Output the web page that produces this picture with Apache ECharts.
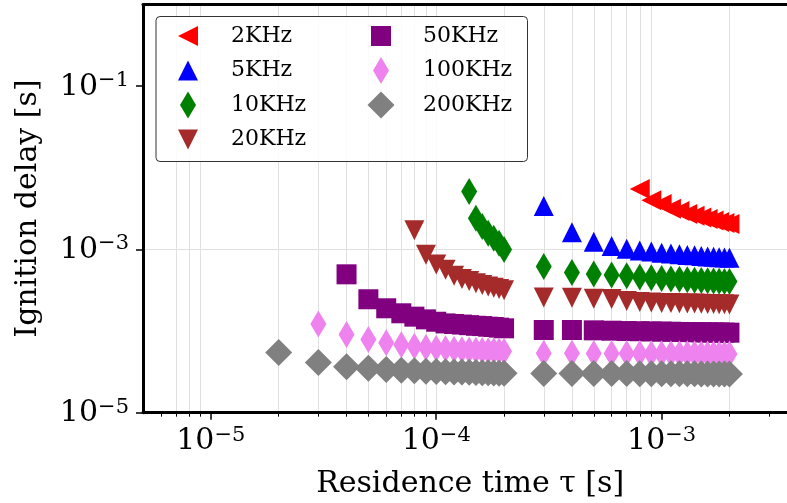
<!DOCTYPE html>
<html>
<head>
<meta charset="utf-8">
<script src="https://cdn.jsdelivr.net/npm/echarts@6/dist/echarts.min.js"></script>
<style>
html,body{margin:0;padding:0;background:#fff;}
#chart{width:787px;height:503px;}
</style>
</head>
<body>
<div id="chart"></div>
<script>
// ---------- data ----------
const seriesNames = ['2KHz', '5KHz', '10KHz', '20KHz', '50KHz', '100KHz', '200KHz'];

// residence times [s]
const tauShort = [2e-5, 3e-5, 4e-5, 5e-5, 6e-5, 7e-5, 8e-5, 9e-5, 1.0e-4, 1.1e-4,
                  1.2e-4, 1.3e-4, 1.4e-4, 1.5e-4, 1.6e-4, 1.7e-4, 1.8e-4, 1.9e-4, 2.0e-4];
const tauLong = [3e-4, 4e-4, 5e-4, 6e-4, 7e-4, 8e-4, 9e-4, 1.0e-3, 1.1e-3, 1.2e-3,
                 1.3e-3, 1.4e-3, 1.5e-3, 1.6e-3, 1.7e-3, 1.8e-3, 1.9e-3, 2.0e-3];
const tau2k = [8e-4, 9e-4, 1.0e-3, 1.1e-3, 1.2e-3, 1.3e-3, 1.4e-3, 1.5e-3, 1.6e-3, 1.7e-3, 1.8e-3, 1.9e-3, 2.0e-3];
const tau5k = tauLong;
const tau10k = [1.4e-4, 1.5e-4, 1.6e-4, 1.7e-4, 1.8e-4, 1.9e-4, 2.0e-4].concat(tauLong);
const tau20k = [8e-5, 9e-5, 1.0e-4, 1.1e-4, 1.2e-4, 1.3e-4, 1.4e-4, 1.5e-4, 1.6e-4, 1.7e-4, 1.8e-4, 1.9e-4, 2.0e-4].concat(tauLong);
const tau50k = tauShort.slice(2).concat(tauLong);
const tau100k = tauShort.slice(1).concat(tauLong);
const tau200k = tauShort.concat(tauLong);

// ignition delays [s]
const delay2k = [5.5e-3, 4.0e-3, 3.6e-3, 3.15e-3, 2.95e-3, 2.72e-3, 2.58e-3, 2.46e-3, 2.35e-3, 2.25e-3, 2.17e-3, 2.1e-3, 2.04e-3];
const delay5k = [3.4e-3, 1.62e-3, 1.24e-3, 1.1e-3, 1.02e-3, 9.7e-4, 9.4e-4, 9.1e-4, 8.9e-4, 8.7e-4,
                 8.55e-4, 8.45e-4, 8.3e-4, 8.2e-4, 8.1e-4, 8.0e-4, 7.95e-4, 7.9e-4];
const delay10k = [5.1e-3, 2.4e-3, 1.9e-3, 1.58e-3, 1.37e-3, 1.19e-3, 1.0e-3,
                  6.15e-4, 5.2e-4, 5.0e-4, 4.87e-4, 4.75e-4, 4.6e-4, 4.5e-4, 4.4e-4, 4.35e-4,
                  4.3e-4, 4.25e-4, 4.2e-4, 4.15e-4, 4.12e-4, 4.1e-4, 4.07e-4, 4.05e-4, 4.03e-4];
const delay20k = [1.72e-3, 8.6e-4, 6.55e-4, 5.65e-4, 4.75e-4, 4.35e-4, 4.1e-4, 3.85e-4, 3.66e-4, 3.5e-4, 3.4e-4, 3.27e-4, 3.15e-4,
                  2.58e-4, 2.56e-4, 2.49e-4, 2.46e-4, 2.34e-4, 2.27e-4, 2.24e-4, 2.21e-4, 2.2e-4, 2.19e-4,
                  2.18e-4, 2.17e-4, 2.16e-4, 2.15e-4, 2.14e-4, 2.13e-4, 2.125e-4, 2.12e-4];
const delay50k = [4.95e-4, 2.45e-4, 1.9e-4, 1.65e-4, 1.5e-4, 1.39e-4, 1.3e-4, 1.24e-4, 1.22e-4, 1.2e-4,
                  1.18e-4, 1.16e-4, 1.15e-4, 1.13e-4, 1.12e-4, 1.10e-4, 1.08e-4,
                  1.03e-4, 1.03e-4, 1.02e-4, 1.01e-4, 1.0e-4, 9.95e-5, 9.9e-5, 9.85e-5, 9.8e-5,
                  9.75e-5, 9.7e-5, 9.68e-5, 9.65e-5, 9.62e-5, 9.6e-5, 9.58e-5, 9.56e-5, 9.55e-5];
const delay100k = [1.22e-4, 9.1e-5, 7.85e-5, 7.2e-5, 6.8e-5, 6.5e-5, 6.3e-5, 6.15e-5, 6.05e-5, 5.98e-5,
                   5.92e-5, 5.87e-5, 5.82e-5, 5.78e-5, 5.75e-5, 5.72e-5, 5.7e-5, 5.67e-5,
                   5.35e-5, 5.33e-5, 5.32e-5, 5.31e-5, 5.3e-5, 5.29e-5, 5.28e-5, 5.28e-5, 5.27e-5,
                   5.27e-5, 5.26e-5, 5.26e-5, 5.25e-5, 5.25e-5, 5.25e-5, 5.24e-5, 5.24e-5, 5.24e-5];
const delay200k = [5.45e-5, 4.12e-5, 3.66e-5, 3.5e-5, 3.37e-5, 3.3e-5, 3.26e-5, 3.22e-5, 3.2e-5, 3.18e-5,
                   3.16e-5, 3.14e-5, 3.12e-5, 3.1e-5, 3.09e-5, 3.08e-5, 3.06e-5, 3.05e-5, 3.04e-5,
                   3.03e-5, 3.02e-5, 3.02e-5, 3.01e-5, 3.01e-5, 3.0e-5, 3.0e-5, 3.0e-5, 2.99e-5,
                   2.99e-5, 2.99e-5, 2.99e-5, 2.98e-5, 2.98e-5, 2.98e-5, 2.98e-5, 2.98e-5, 2.98e-5];

// axis ticks
const xMajorTicks = [1e-5, 1e-4, 1e-3];
const xMinorTicks = [6e-6, 7e-6, 8e-6, 9e-6,
                     2e-5, 3e-5, 4e-5, 5e-5, 6e-5, 7e-5, 8e-5, 9e-5,
                     2e-4, 3e-4, 4e-4, 5e-4, 6e-4, 7e-4, 8e-4, 9e-4,
                     2e-3, 3e-3];
const yMajorTicks = [1e-5, 1e-3, 1e-1];

// ---------- styling ----------
const FONT = 'DejaVu Serif';
const colors = ['#ff0000', '#0000ff', '#008000', '#a52a2a', '#800080', '#ee82ee', '#808080'];
const symbols = [
  'path://M0,10L20,0L20,20Z',      // left triangle
  'triangle',
  'diamond',
  'path://M0,0L20,0L10,20Z',       // down triangle
  'rect',
  'diamond',
  'diamond'
];
const symbolSizes = [20, 20, [16, 27], 20, 20, [16, 27], [27, 27]];
const legendIcons = [
  'path://M0,0M28,28M4,14L24,4L24,24Z',
  'path://M0,0M28,28M14,4L24,24L4,24Z',
  'path://M0,0M28,28M14,0.5L22,14L14,27.5L6,14Z',
  'path://M0,0M28,28M4,4L24,4L14,24Z',
  'path://M0,0M28,28M4,4L24,4L24,24L4,24Z',
  'path://M0,0M28,28M14,0.5L22,14L14,27.5L6,14Z',
  'path://M0,0M28,28M14,0.5L27.5,14L14,27.5L0.5,14Z'
];
const taus = [tau2k, tau5k, tau10k, tau20k, tau50k, tau100k, tau200k];
const delays = [delay2k, delay5k, delay10k, delay20k, delay50k, delay100k, delay200k];

function pow10Label(v) {
  const e = Math.round(Math.log10(v));
  const s = e < 0 ? '\u2212' + (-e) : String(e);
  return '{b|10}{s|' + s + '}';
}
const richStyle = {
  b: {fontFamily: FONT, fontSize: 30, color: '#000', lineHeight: 32, verticalAlign: 'bottom'},
  s: {fontFamily: FONT, fontSize: 21, color: '#000', lineHeight: 21, verticalAlign: 'top'}
};

const X_MIN = 5e-6, X_MAX = 4e-3, Y_MIN = 1e-5, Y_MAX = 1;

const series = seriesNames.map((name, i) => ({
  name: name,
  type: 'scatter',
  xAxisIndex: 0,
  yAxisIndex: 0,
  symbol: symbols[i],
  symbolSize: symbolSizes[i],
  itemStyle: {color: colors[i], opacity: 1},
  emphasis: {disabled: true},
  data: taus[i].map((t, k) => [t, delays[i][k]])
}));

const legendCommon = {
  orient: 'vertical',
  itemWidth: 28,
  itemHeight: 28,
  itemGap: 6.5,
  padding: 0,
  selectedMode: false,
  backgroundColor: 'transparent',
  borderWidth: 0,
  z: 6
};

const option = {
  animation: false,
  backgroundColor: '#ffffff',
  grid: {left: 143, top: 4.4, width: 654.3, height: 408.3, containLabel: false, outerBoundsMode: 'none', show: false},
  xAxis: [
    {
      type: 'log', logBase: 10, min: X_MIN, max: X_MAX, position: 'bottom',
      name: 'Residence time \u03c4 [s]', nameLocation: 'middle', nameGap: 57,
      nameTextStyle: {fontFamily: FONT, fontSize: 30, color: '#000'},
      axisLine: {show: true, onZero: false, lineStyle: {color: '#000', width: 3}},
      axisTick: {show: true, inside: false, length: 7, customValues: xMajorTicks, lineStyle: {color: '#000', width: 1.5}},
      axisLabel: {show: true, margin: 12, customValues: xMajorTicks, formatter: pow10Label, rich: richStyle},
      splitLine: {show: true, showMinLine: false, showMaxLine: false, lineStyle: {color: '#e0e0e0', width: 1}},
      minorTick: {show: false}, minorSplitLine: {show: false}
    },
    {
      type: 'log', logBase: 10, min: X_MIN, max: X_MAX, position: 'bottom',
      axisLine: {show: false, onZero: false},
      axisTick: {show: true, inside: false, length: 4, customValues: xMinorTicks, lineStyle: {color: '#000', width: 1}},
      axisLabel: {show: false},
      splitLine: {show: true, showMinLine: false, showMaxLine: false, lineStyle: {color: '#e0e0e0', width: 1}},
      minorTick: {show: false}, minorSplitLine: {show: false}
    },
    {
      type: 'log', logBase: 10, min: X_MIN, max: X_MAX, position: 'top',
      axisLine: {show: true, onZero: false, lineStyle: {color: '#000', width: 3}},
      axisTick: {show: false}, axisLabel: {show: false}, splitLine: {show: false}
    }
  ],
  yAxis: [
    {
      type: 'log', logBase: 10, min: Y_MIN, max: Y_MAX, position: 'left',
      name: 'Ignition delay [s]', nameLocation: 'middle', nameGap: 100, nameRotate: 90,
      nameTextStyle: {fontFamily: FONT, fontSize: 30, color: '#000'},
      axisLine: {show: true, onZero: false, lineStyle: {color: '#000', width: 3}},
      axisTick: {show: true, inside: false, length: 7, customValues: yMajorTicks, lineStyle: {color: '#000', width: 1.5}},
      axisLabel: {show: true, margin: 14, customValues: yMajorTicks, formatter: pow10Label, rich: richStyle},
      splitLine: {show: true, showMinLine: false, showMaxLine: false, lineStyle: {color: '#e0e0e0', width: 1}},
      minorTick: {show: false}, minorSplitLine: {show: false}
    }
  ],
  legend: [
    Object.assign({}, legendCommon, {
      left: 174, top: 22,
      textStyle: {fontFamily: FONT, fontSize: 22, color: '#000', padding: [0, 0, 0, 24]},
      data: seriesNames.slice(0, 4).map((n, i) => ({name: n, icon: legendIcons[i]}))
    }),
    Object.assign({}, legendCommon, {
      left: 367, top: 22,
      textStyle: {fontFamily: FONT, fontSize: 22, color: '#000', padding: [0, 0, 0, 23]},
      data: seriesNames.slice(4).map((n, i) => ({name: n, icon: legendIcons[i + 4]}))
    })
  ],
  graphic: [
    {
      type: 'rect', left: 155.5, top: 16, z: 5,
      shape: {width: 371.5, height: 145, r: 4},
      style: {fill: 'rgba(255,255,255,0.85)', stroke: '#333333', lineWidth: 1}
    }
  ],
  series: series
};

const chart = echarts.init(document.getElementById('chart'), null, {renderer: 'canvas'});
chart.setOption(option);
</script>
</body>
</html>
